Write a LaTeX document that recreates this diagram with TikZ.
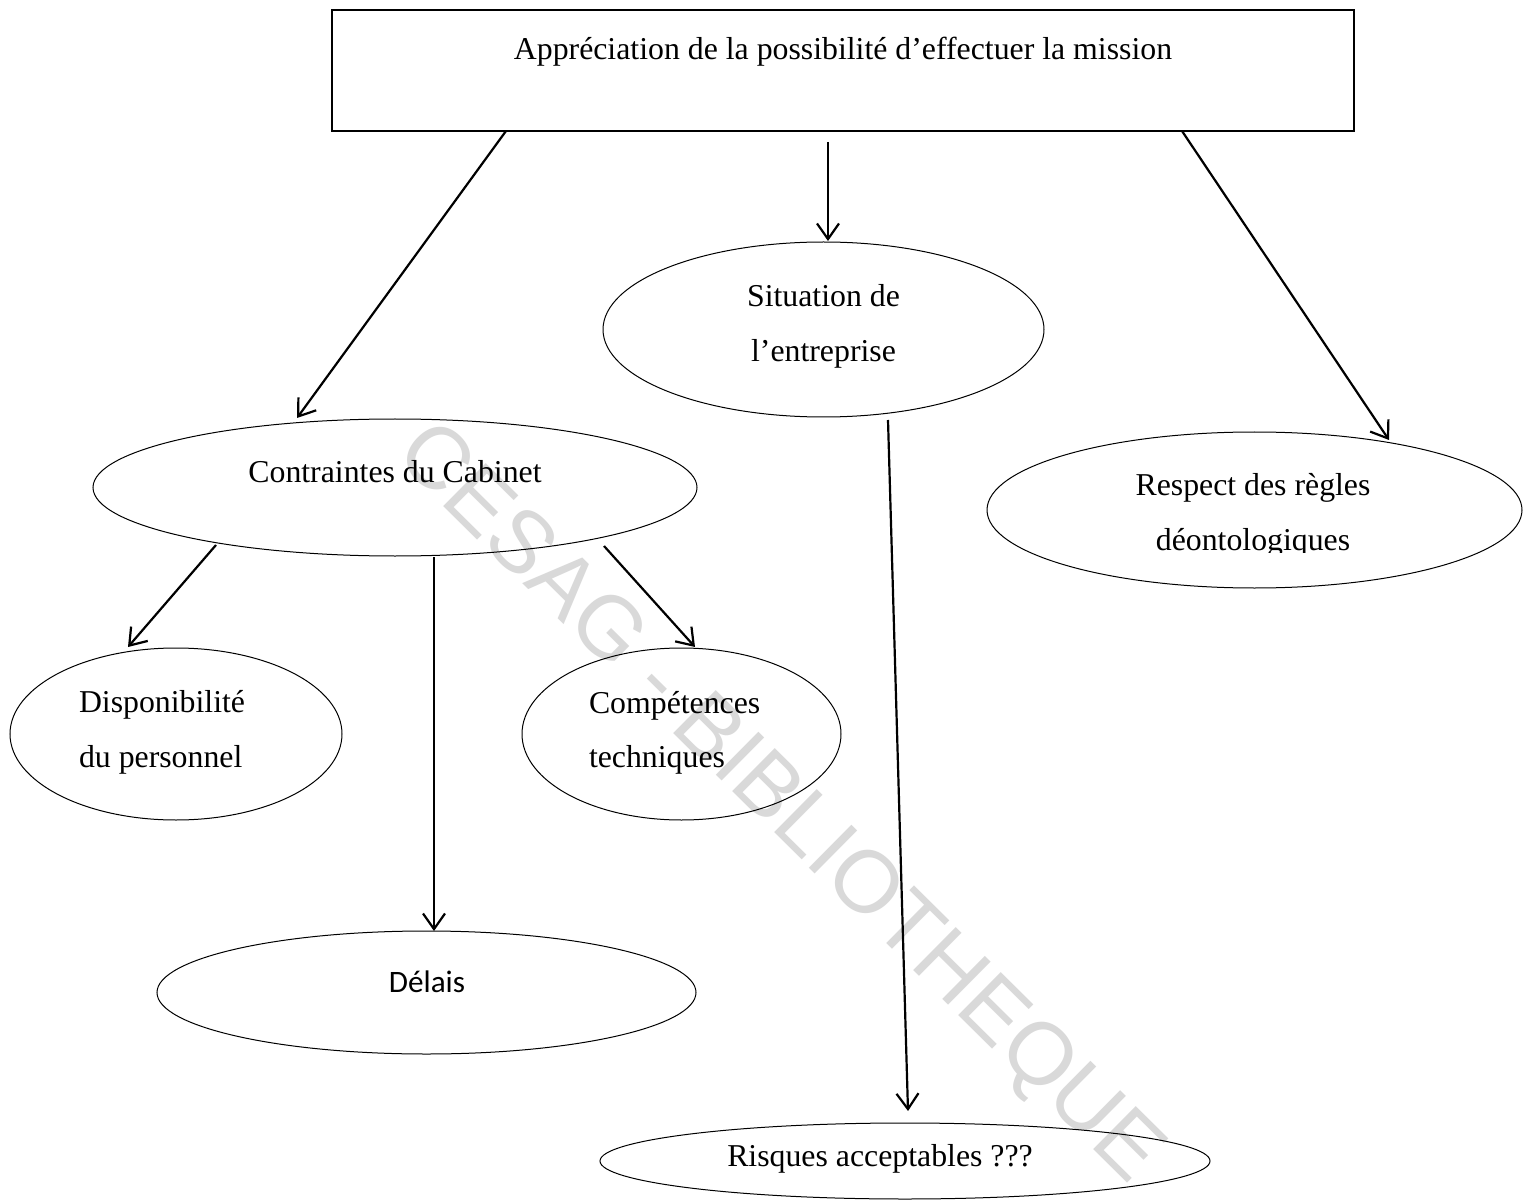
\documentclass[tikz,border=0pt]{standalone}
\usepackage{fontspec}
\setmainfont{Liberation Serif}
\newfontfamily\calibrifont{Carlito}
\newfontfamily\wmfont{Liberation Sans}
\usetikzlibrary{shapes.geometric,arrows.meta,calc}
\definecolor{wmgray}{RGB}{217,217,217}

\begin{document}
\begin{tikzpicture}[x=0.5pt,y=-0.5pt,
  every node/.style={inner sep=0pt, outer sep=0pt},
  txt/.style={font=\fontsize{15.9}{27.5}\selectfont, anchor=base},
  bubble/.style={draw, ellipse, line width=0.5pt},
  conn/.style={line width=1.1pt, -{Straight Barb[length=7.8pt,width=11pt,line width=1.1pt]}},
]
\useasboundingbox (0,0) rectangle (1531,1203);
\fill[white] (0,0) rectangle (1531,1203);

% watermark, behind everything
\node[font=\wmfont\fontsize{44}{44}\selectfont, text=wmgray, rotate=-44.7] (wm) at (778,805) {CESAG - BIBLIOTHEQUE};

% boxes
\node[draw, line width=0.65pt, minimum width=511pt, minimum height=60.5pt] (top) at (843,70.5) {};
\node[bubble, minimum width=220.5pt, minimum height=87.5pt] (sit) at (823.5,329.5) {};
\node[bubble, minimum width=302pt, minimum height=68.5pt] (cab) at (395,487.5) {};
\node[bubble, minimum width=267.5pt, minimum height=78pt] (resp) at (1254.5,510) {};
\node[bubble, minimum width=166pt, minimum height=86pt] (dispo) at (176,734) {};
\node[bubble, minimum width=159.5pt, minimum height=86pt] (comp) at (681.5,734) {};
\node[bubble, minimum width=269.5pt, minimum height=61.5pt] (del) at (426.5,992.5) {};
\node[bubble, minimum width=305pt, minimum height=38pt] (risk) at (905,1161) {};

% labels
\node[txt] (top-t) at (843,60) {Appréciation de la possibilité d’effectuer la mission};
\node[txt] (sit-t1) at (823.5,307) {Situation de};
\node[txt] (sit-t2) at (823.5,362) {l’entreprise};
\node[txt] (cab-t) at (395,482) {Contraintes du Cabinet};
\node[txt] (resp-t1) at (1253,495) {Respect des règles};
\begin{scope}
  \clip (1100,400) rectangle (1400,552);
  \node[txt] (resp-t2) at (1253,550) {déontologiques};
\end{scope}
\node[txt, anchor=base west] (dis-t1) at (79,712) {Disponibilité};
\node[txt, anchor=base west] (dis-t2) at (79,767) {du personnel};
\node[txt, anchor=base west] (comp-t1) at (589,713) {Compétences};
\node[txt, anchor=base west] (comp-t2) at (589,767) {techniques};
\node[txt, font=\calibrifont\fontsize{15.6}{20}\selectfont] (del-t) at (427,992) {Délais};
\node[txt] (risk-t) at (880,1166) {Risques acceptables ???};

% connectors
\draw[conn] ($(top.south west)+(174,0)$) -- ($(cab.center)+(-98,-69.5)$);
\draw[conn] ($(top.south west)+(496,11)$) -- ($(sit.center)+(4.5,-88.5)$);
\draw[conn] ($(top.south east)+(-172,0)$) -- ($(resp.center)+(134.5,-70)$);
\draw[conn] ($(sit.center)+(64.5,90.5)$) -- ($(risk.center)+(3,-50)$);
\draw[conn] ($(cab.center)+(-179,57.5)$) -- ($(dispo.center)+(-48,-87)$);
\draw[conn] ($(cab.center)+(39,69.5)$) -- ($(del.center)+(7.5,-61.5)$);
\draw[conn] ($(cab.center)+(209,58.5)$) -- ($(comp.center)+(13.5,-87)$);
\end{tikzpicture}
\end{document}
